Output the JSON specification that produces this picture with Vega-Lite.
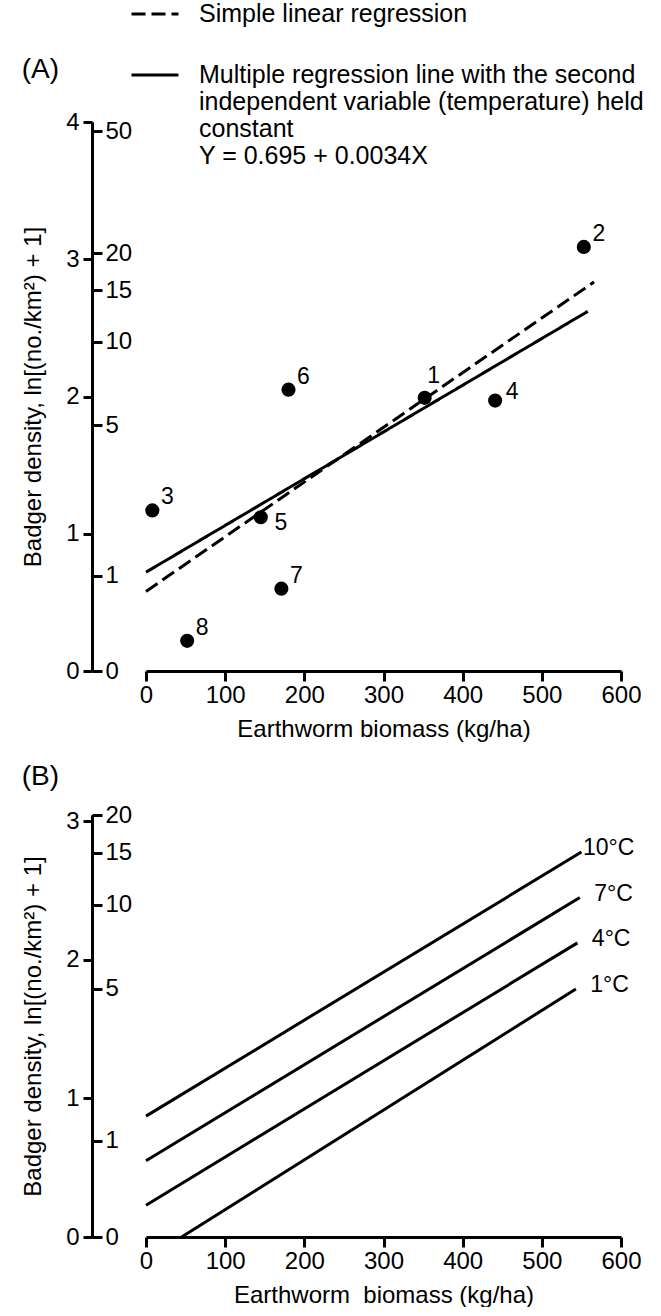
{
  "$schema": "https://vega.github.io/schema/vega-lite/v6.json",
  "padding": {"left": 21, "top": 2, "right": 0, "bottom": 0},
  "background": "white",
  "spacing": 22,
  "datasets": {
    "pointsA": [
      {"id": "1", "x": 352, "y": 1.99},
      {"id": "2", "x": 553, "y": 3.09},
      {"id": "3", "x": 8, "y": 1.17},
      {"id": "4", "x": 441, "y": 1.97},
      {"id": "5", "x": 145, "y": 1.12},
      {"id": "6", "x": 180, "y": 2.05},
      {"id": "7", "x": 171, "y": 0.6},
      {"id": "8", "x": 52, "y": 0.22}
    ],
    "linesA": [
      {"type": "simple", "x": 0, "y": 0.58},
      {"type": "simple", "x": 566, "y": 2.835},
      {"type": "multiple", "x": 0, "y": 0.72},
      {"type": "multiple", "x": 558, "y": 2.62}
    ],
    "linesB": [
      {"temp": "10°C", "x": 0, "y": 0.872},
      {"temp": "10°C", "x": 550, "y": 2.777},
      {"temp": "7°C", "x": 0, "y": 0.55},
      {"temp": "7°C", "x": 548, "y": 2.449},
      {"temp": "4°C", "x": 0, "y": 0.229},
      {"temp": "4°C", "x": 545, "y": 2.122},
      {"temp": "1°C", "x": 45, "y": 0},
      {"temp": "1°C", "x": 543, "y": 1.789}
    ]
  },
  "vconcat": [
    {
      "width": 475,
      "height": 549,
      "title": {"text": "(A)", "anchor": "start", "frame": "bounds", "offset": 0, "dy": -26},
      "layer": [
        {
          "data": {"name": "linesA"},
          "mark": {"type": "line", "color": "black", "strokeWidth": 3},
          "encoding": {
            "x": {"field": "x", "type": "quantitative", "scale": {"domain": [0, 600], "nice": false},
              "axis": {"values": [0, 100, 200, 300, 400, 500, 600], "title": "Earthworm biomass (kg/ha)", "tickSize": 10, "labelPadding": 2, "titlePadding": 10}},
            "y": {"field": "y", "type": "quantitative", "scale": {"domain": [0, 4], "nice": false},
              "axis": {"orient": "left", "offset": 54, "values": [0, 1, 2, 3, 4], "tickSize": 9, "labelPadding": 4, "title": "Badger density, ln[(no./km²) + 1]", "titlePadding": 20}},
            "strokeDash": {"field": "type", "type": "nominal",
              "scale": {"domain": ["simple", "multiple"], "range": [[14, 6], [1, 0]]},
              "legend": {
                "orient": "none", "legendX": -16, "legendY": -120, "title": null, "clipHeight": 24,
                "symbolType": "stroke", "symbolSize": 2209, "symbolStrokeWidth": 3, "symbolStrokeColor": "black",
                "labelFontSize": 25, "labelColor": "black", "labelLimit": 1000, "labelOffset": 19, "rowPadding": 36,
                "labelBaseline": "middle",
                "labelExpr": "datum.value === 'multiple' ? ['Multiple regression line with the second', 'independent variable (temperature) held', 'constant', 'Y = 0.695 + 0.0034X'] : 'Simple linear regression'"
              }}
          }
        },
        {
          "data": {"name": "pointsA"},
          "mark": {"type": "circle", "color": "black", "opacity": 1, "size": 200},
          "encoding": {
            "x": {"field": "x", "type": "quantitative"},
            "y": {"field": "y", "type": "quantitative", "scale": {"domain": [0, 4], "nice": false},
              "axis": {"orient": "right", "offset": -529, "values": [0, 0.693147, 1.791759, 2.397895, 2.772589, 3.044522, 3.931826], "labelExpr": "format(exp(datum.value) - 1, 'd')", "tickSize": 10, "labelPadding": 3, "title": null}}
          }
        },
        {
          "data": {"name": "pointsA"},
          "transform": [{"filter": "datum.id !== '1' && datum.id !== '4' && datum.id !== '5'"}],
          "mark": {"type": "text", "fontSize": 23, "color": "black", "align": "center", "baseline": "middle", "dx": 15, "dy": -13},
          "encoding": {
            "x": {"field": "x", "type": "quantitative"},
            "y": {"field": "y", "type": "quantitative", "axis": null},
            "text": {"field": "id"}
          }
        },
        {
          "data": {"name": "pointsA"},
          "transform": [{"filter": "datum.id === '1'"}],
          "mark": {"type": "text", "fontSize": 23, "color": "black", "align": "center", "baseline": "middle", "dx": 9, "dy": -22},
          "encoding": {
            "x": {"field": "x", "type": "quantitative"},
            "y": {"field": "y", "type": "quantitative", "axis": null},
            "text": {"field": "id"}
          }
        },
        {
          "data": {"name": "pointsA"},
          "transform": [{"filter": "datum.id === '4'"}],
          "mark": {"type": "text", "fontSize": 23, "color": "black", "align": "center", "baseline": "middle", "dx": 17, "dy": -9},
          "encoding": {
            "x": {"field": "x", "type": "quantitative"},
            "y": {"field": "y", "type": "quantitative", "axis": null},
            "text": {"field": "id"}
          }
        },
        {
          "data": {"name": "pointsA"},
          "transform": [{"filter": "datum.id === '5'"}],
          "mark": {"type": "text", "fontSize": 23, "color": "black", "align": "center", "baseline": "middle", "dx": 20, "dy": 6},
          "encoding": {
            "x": {"field": "x", "type": "quantitative"},
            "y": {"field": "y", "type": "quantitative", "axis": null},
            "text": {"field": "id"}
          }
        }
      ],
      "resolve": {"axis": {"y": "independent"}}
    },
    {
      "width": 475,
      "height": 422,
      "title": {"text": "(B)", "anchor": "start", "frame": "bounds", "offset": 12},
      "layer": [
        {
          "data": {"name": "linesB"},
          "mark": {"type": "line", "color": "black", "strokeWidth": 3},
          "encoding": {
            "x": {"field": "x", "type": "quantitative", "scale": {"domain": [0, 600], "nice": false},
              "axis": {"values": [0, 100, 200, 300, 400, 500, 600], "title": "Earthworm\u00a0 biomass (kg/ha)", "tickSize": 10, "labelPadding": 2, "titlePadding": 10}},
            "y": {"field": "y", "type": "quantitative", "scale": {"domain": [0, 3.044522], "nice": false},
              "axis": {"orient": "left", "offset": 54, "values": [0, 1, 2, 3], "tickSize": 9, "labelPadding": 4, "title": "Badger density, ln[(no./km²) + 1]", "titlePadding": 20}},
            "detail": {"field": "temp", "type": "nominal"}
          }
        },
        {
          "data": {"name": "linesB"},
          "transform": [{"filter": "datum.x > 300"}],
          "mark": {"type": "text", "fontSize": 23, "color": "black", "align": "right", "baseline": "middle", "dx": 53, "dy": -4},
          "encoding": {
            "x": {"field": "x", "type": "quantitative"},
            "y": {"field": "y", "type": "quantitative", "scale": {"domain": [0, 3.044522], "nice": false},
              "axis": {"orient": "right", "offset": -529, "values": [0, 0.693147, 1.791759, 2.397895, 2.772589, 3.044522], "labelExpr": "format(exp(datum.value) - 1, 'd')", "tickSize": 10, "labelPadding": 3, "title": null}},
            "text": {"field": "temp"}
          }
        }
      ],
      "resolve": {"axis": {"y": "independent"}}
    }
  ],
  "config": {
    "view": {"stroke": null},
    "font": "Liberation Sans",
    "axis": {
      "grid": false, "domainColor": "black", "domainWidth": 3, "tickColor": "black", "tickWidth": 3,
      "labelColor": "black", "labelFontSize": 24, "labelFont": "Liberation Sans", "labelFlush": false, "labelOverlap": false,
      "titleColor": "black", "titleFontSize": 24, "titleFont": "Liberation Sans", "titleFontWeight": "normal"
    },
    "legend": {"labelFont": "Liberation Sans", "padding": 0},
    "title": {"fontSize": 28, "fontWeight": "normal", "color": "black", "font": "Liberation Sans"}
  }
}
